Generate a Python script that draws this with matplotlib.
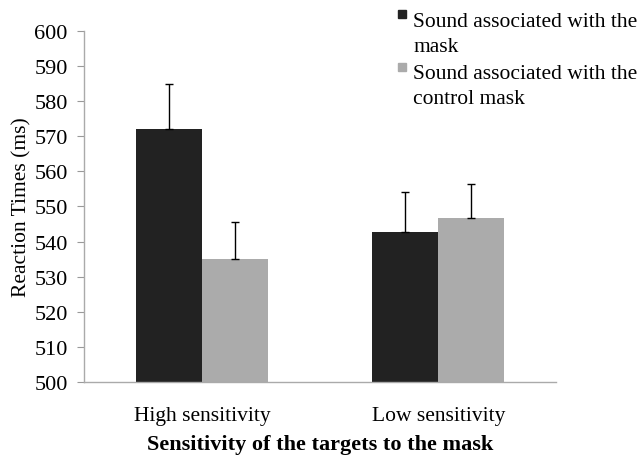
import matplotlib
matplotlib.use("Agg")
import matplotlib.pyplot as plt
import numpy as np
from matplotlib.patches import Rectangle

categories = ["High sensitivity", "Low sensitivity"]
series_names = ["Sound associated with the\nmask", "Sound associated with the\ncontrol mask"]
mask_rt = [572.0, 542.7]
control_rt = [535.0, 546.7]
mask_err = [13.0, 11.3]
control_err = [10.7, 9.8]
yticks = list(range(500, 601, 10))

plt.rcParams["font.family"] = ["Liberation Serif", "DejaVu Serif"]

fig = plt.figure(figsize=(6.43, 4.56), dpi=100)
ax = fig.add_axes([0.131, 0.160, 0.734, 0.770])

x = np.arange(len(categories))
w = 0.28
colors = ["#222222", "#ababab"]
for off, vals, err, c in [(-w / 2, mask_rt, mask_err, colors[0]),
                          (w / 2, control_rt, control_err, colors[1])]:
    ax.bar(x + off, vals, width=w, color=c, zorder=2)
    ax.errorbar(x + off, vals, yerr=[np.zeros(len(err)), err], fmt="none",
                ecolor="black", elinewidth=1.0, capsize=3, capthick=1.0, zorder=3)

ax.set_xlim(-0.5, 1.5)
ax.set_ylim(500, 600)
ax.set_yticks(yticks)
ax.set_xticks(x)
ax.set_xticklabels(categories, fontsize=15.5)
ax.tick_params(axis="x", length=0, pad=17)
ax.tick_params(axis="y", labelsize=16, length=5, color="#999999", direction="out", pad=7)
for s in ["top", "right"]:
    ax.spines[s].set_visible(False)
for s in ["left", "bottom"]:
    ax.spines[s].set_color("#aaaaaa")
    ax.spines[s].set_linewidth(1.0)

ax.set_ylabel("Reaction Times (ms)", fontsize=15.5, labelpad=2)
ax.set_xlabel("Sensitivity of the targets to the mask", fontsize=16,
              fontweight="bold", labelpad=7)

# legend: small squares at the top line of each wrapped label
W, H = fig.get_size_inches() * fig.dpi
text_tops = [13, 65]
box_tops = [11, 64]
for c, name, tt, bt in zip(colors, series_names, text_tops, box_tops):
    fig.patches.append(Rectangle((398 / W, 1 - (bt + 8) / H), 8 / W, 8 / H,
                                 transform=fig.transFigure, color=c, figure=fig))
    fig.text(413 / W, 1 - tt / H, name, fontsize=15.5, va="top", ha="left",
             linespacing=1.45)

fig.savefig("out.png", dpi=100)
